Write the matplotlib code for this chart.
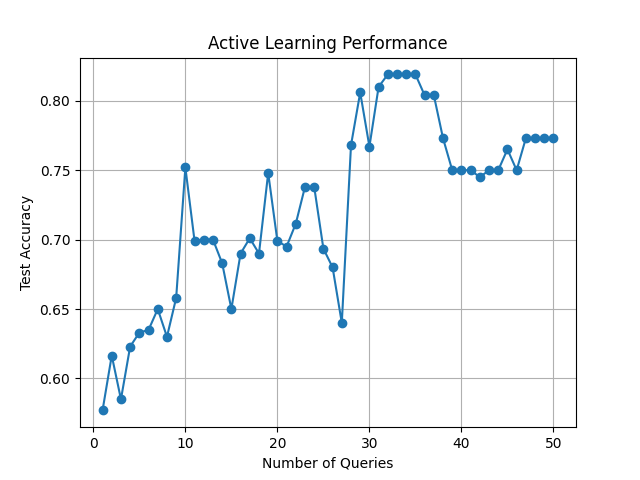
import matplotlib.pyplot as plt

# -----------------------------
# Data
# -----------------------------
queries = list(range(1, 51))
accuracy = [
    0.577, 0.6165, 0.585, 0.623, 0.633, 0.635, 0.650, 0.630, 0.658, 0.752,
    0.699, 0.700, 0.700, 0.683, 0.650, 0.690, 0.701, 0.690, 0.748, 0.699,
    0.695, 0.7115, 0.738, 0.738, 0.6935, 0.680, 0.640, 0.768, 0.806, 0.767,
    0.810, 0.819, 0.819, 0.819, 0.819, 0.804, 0.804, 0.773, 0.750, 0.750,
    0.750, 0.745, 0.750, 0.750, 0.765, 0.750, 0.773, 0.773, 0.773, 0.773,
]

# -----------------------------
# Plot
# -----------------------------
plt.figure(figsize=(6.4, 4.8), dpi=100)
plt.plot(queries, accuracy, marker="o")
plt.title("Active Learning Performance")
plt.xlabel("Number of Queries")
plt.ylabel("Test Accuracy")
plt.grid(True)
plt.savefig("out.png")
plt.close()
